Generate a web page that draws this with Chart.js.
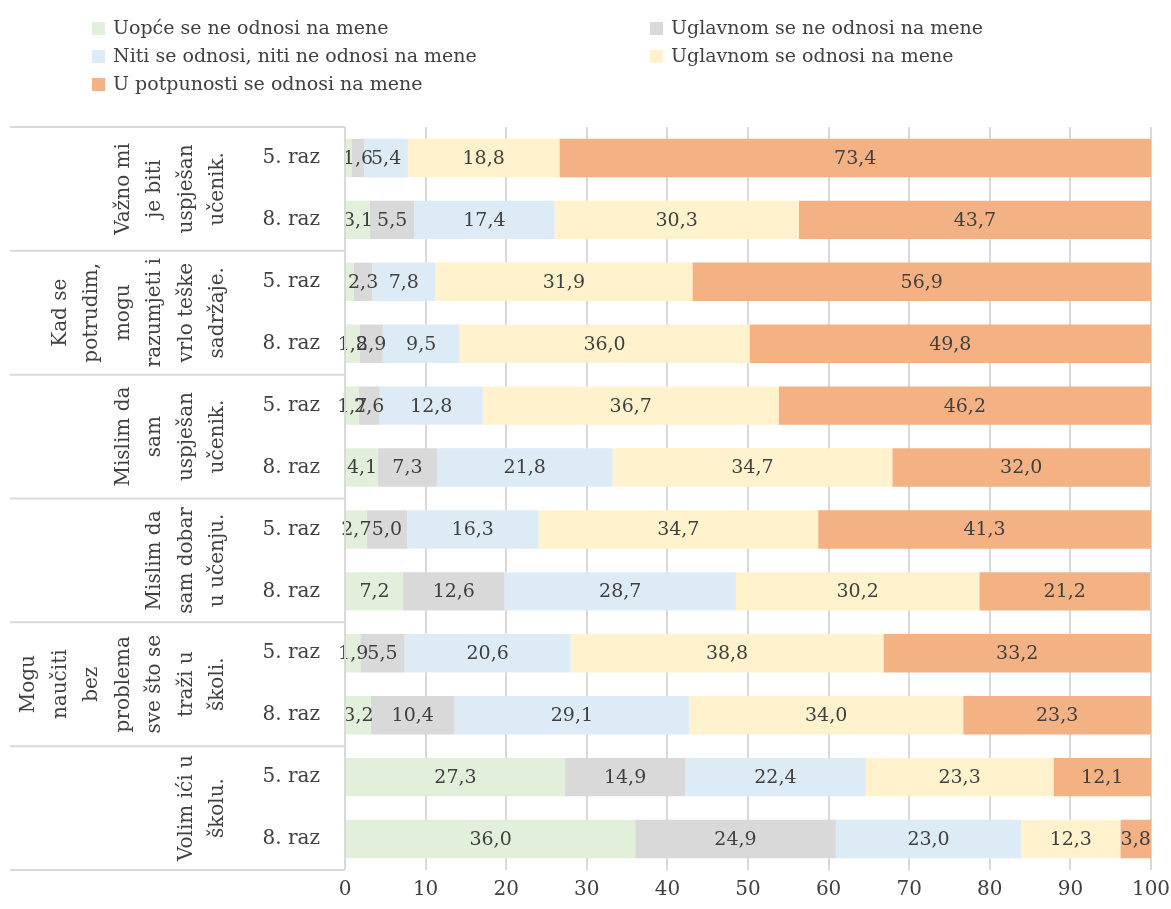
<!DOCTYPE html>
<html>
<head>
<meta charset="utf-8">
<script src="https://cdn.jsdelivr.net/npm/chart.js@4"></script>
<style>
  html, body { margin: 0; padding: 0; background: #fff; }
  #wrap { position: relative; width: 1171px; height: 909px; }
  #chart { position: absolute; left: 0; top: 0; }
  #legend { position: absolute; left: 0; top: 0; width: 1171px; height: 110px;
    font-family: 'DejaVu Serif', serif; font-size: 19px; color: #404040; }
  .li { position: absolute; white-space: nowrap; line-height: 24px; }
  .sw { display: inline-block; width: 13px; height: 13px; margin-right: 8px; vertical-align: -1px; }
</style>
</head>
<body>
<div id="wrap">
  <canvas id="chart" width="1171" height="909"></canvas>
  <div id="legend"></div>
</div>
<script>
// ---- data ----
const categories = ['5. raz', '8. raz', '5. raz', '8. raz', '5. raz', '8. raz',
                    '5. raz', '8. raz', '5. raz', '8. raz', '5. raz', '8. raz'];
const groupLabels = [
  ['Važno mi', 'je biti', 'uspješan', 'učenik.'],
  ['Kad se', 'potrudim,', 'mogu', 'razumjeti i', 'vrlo teške', 'sadržaje.'],
  ['Mislim da', 'sam', 'uspješan', 'učenik.'],
  ['Mislim da', 'sam dobar', 'u učenju.'],
  ['Mogu', 'naučiti', 'bez', 'problema', 'sve što se', 'traži u', 'školi.'],
  ['Volim ići u', 'školu.']
];
const seriesNames = ['Uopće se ne odnosi na mene', 'Uglavnom se ne odnosi na mene',
  'Niti se odnosi, niti ne odnosi na mene', 'Uglavnom se odnosi na mene',
  'U potpunosti se odnosi na mene'];
const uopce      = [0.8, 3.1, 1.1, 1.8, 1.7, 4.1, 2.7, 7.2, 1.9, 3.2, 27.3, 36.0];
const uglavnomNe = [1.6, 5.5, 2.3, 2.9, 2.6, 7.3, 5.0, 12.6, 5.5, 10.4, 14.9, 24.9];
const niti       = [5.4, 17.4, 7.8, 9.5, 12.8, 21.8, 16.3, 28.7, 20.6, 29.1, 22.4, 23.0];
const uglavnomDa = [18.8, 30.3, 31.9, 36.0, 36.7, 34.7, 34.7, 30.2, 38.8, 34.0, 23.3, 12.3];
const potpuno    = [73.4, 43.7, 56.9, 49.8, 46.2, 32.0, 41.3, 21.2, 33.2, 23.3, 12.1, 3.8];
const xMin = 0, xMax = 100, xStep = 10;

const colors = ['#e2efda', '#d9d9d9', '#ddebf7', '#fff2cc', '#f4b183'];
const seriesValues = [uopce, uglavnomNe, niti, uglavnomDa, potpuno];

const FONT = "'DejaVu Serif', serif";
const TEXT = '#404040';
const GRID = '#d9d9d9';

// ---- legend (HTML) ----
const legendPos = [[92, 15], [650, 15], [92, 43], [650, 43], [92, 71]];
const legendEl = document.getElementById('legend');
seriesNames.forEach((n, i) => {
  const d = document.createElement('div');
  d.className = 'li';
  d.style.left = legendPos[i][0] + 'px';
  d.style.top = legendPos[i][1] + 'px';
  d.innerHTML = '<span class="sw" style="background:' + colors[i] + '"></span>';
  d.appendChild(document.createTextNode(n));
  legendEl.appendChild(d);
});

// ---- plugins ----
const valueLabels = {
  id: 'valueLabels',
  afterDatasetsDraw(chart) {
    const ctx = chart.ctx;
    ctx.save();
    ctx.font = '19px ' + FONT;
    ctx.fillStyle = TEXT;
    ctx.textAlign = 'center';
    ctx.textBaseline = 'middle';
    chart.data.datasets.forEach((ds, di) => {
      const meta = chart.getDatasetMeta(di);
      meta.data.forEach((bar, i) => {
        const v = ds.data[i];
        if (v < 1.5) return;
        const x = (bar.x + bar.base) / 2;
        ctx.fillText(v.toFixed(1).replace('.', ','), x, bar.y + 1);
      });
    });
    ctx.restore();
  }
};

const groupAxis = {
  id: 'groupAxis',
  afterDraw(chart) {
    const ctx = chart.ctx;
    const y = chart.scales.y;
    const area = chart.chartArea;
    const step = (area.bottom - area.top) / categories.length;
    ctx.save();
    ctx.strokeStyle = GRID;
    ctx.lineWidth = 2;
    for (let k = 0; k <= groupLabels.length; k++) {
      const yy = area.top + k * step * 2;
      ctx.beginPath();
      ctx.moveTo(10, yy);
      ctx.lineTo(area.left, yy);
      ctx.stroke();
    }
    ctx.beginPath();
    ctx.moveTo(area.left, area.top);
    ctx.lineTo(area.left, area.bottom);
    ctx.stroke();
    ctx.font = '20px ' + FONT;
    ctx.fillStyle = TEXT;
    ctx.textAlign = 'center';
    ctx.textBaseline = 'middle';
    const lastX = 218, lineGap = 31.5;
    groupLabels.forEach((lines, g) => {
      const cy = (y.getPixelForValue(2 * g) + y.getPixelForValue(2 * g + 1)) / 2;
      lines.forEach((t, i) => {
        const x = lastX - (lines.length - 1 - i) * lineGap;
        ctx.save();
        ctx.translate(x, cy);
        ctx.rotate(-Math.PI / 2);
        ctx.fillText(t, 0, 0);
        ctx.restore();
      });
    });
    ctx.restore();
  }
};

new Chart(document.getElementById('chart'), {
  type: 'bar',
  data: {
    labels: categories,
    datasets: seriesNames.map((n, i) => ({
      label: n,
      data: seriesValues[i],
      backgroundColor: colors[i],
      borderWidth: 0,
      barPercentage: 0.62,
      categoryPercentage: 1.0
    }))
  },
  options: {
    indexAxis: 'y',
    responsive: false,
    animation: false,
    layout: { padding: { top: 127, right: 20, bottom: 0, left: 0 } },
    plugins: { legend: { display: false }, tooltip: { enabled: false } },
    scales: {
      x: {
        stacked: true,
        min: xMin, max: xMax,
        ticks: { stepSize: xStep, color: TEXT, font: { family: FONT, size: 20 }, padding: 8 },
        grid: { color: GRID, lineWidth: 2, drawTicks: false },
        border: { display: false },
        afterFit(scale) { scale.height = 39; scale.paddingLeft = 0; scale.paddingRight = 0; }
      },
      y: {
        stacked: true,
        ticks: { color: TEXT, font: { family: FONT, size: 20 }, padding: 25 },
        grid: { display: false, drawTicks: false },
        border: { display: false },
        afterFit(scale) { scale.width = 345; scale.paddingTop = 0; scale.paddingBottom = 0; }
      }
    }
  },
  plugins: [valueLabels, groupAxis]
});
</script>
</body>
</html>
